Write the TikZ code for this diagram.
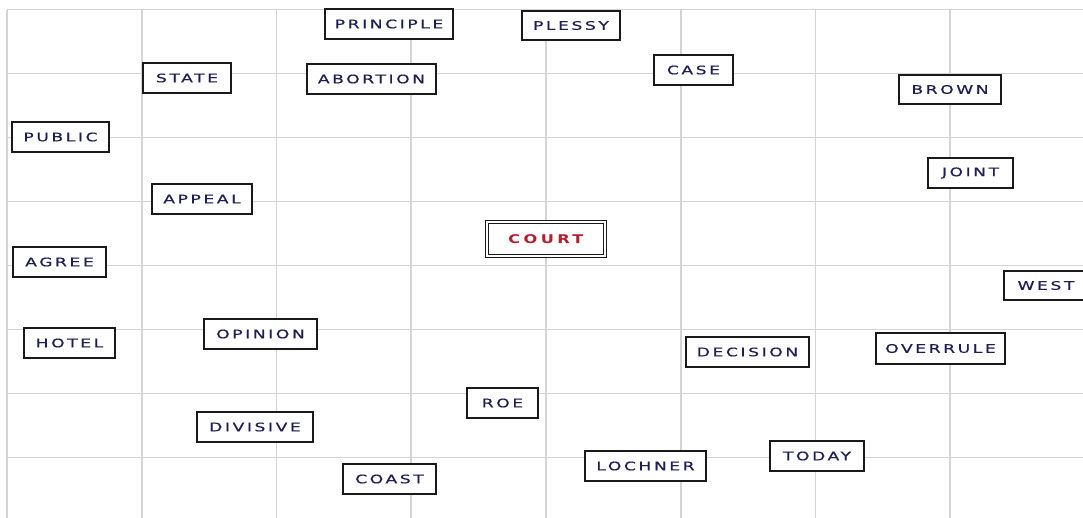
\documentclass[tikz,border=0pt]{standalone}
\usepackage{fontspec}
\newfontfamily\wordfont[FakeStretch=1.45,LetterSpace=22,FakeBold=0.6]{DejaVu Sans}
\newfontfamily\courtfont[FakeStretch=1.35,LetterSpace=28]{DejaVu Sans Bold}
\definecolor{gridgray}{HTML}{D4D4D4}
\definecolor{wordnavy}{HTML}{1E1E55}
\definecolor{courtred}{HTML}{B81C2C}
\definecolor{boxedge}{HTML}{1A1A1A}
\tikzset{
  wordbox/.style={draw=boxedge, line width=1.6, fill=white, text=wordnavy,
    font={\wordfont\fontsize{11.8}{13}\selectfont}, inner sep=0, anchor=center},
  courtbox/.style={draw=boxedge, double=white, double distance=2, line width=1,
    fill=white, text=courtred, font={\courtfont\fontsize{12}{14}\selectfont},
    inner sep=0, anchor=center},
  gridline/.style={draw=gridgray, line width=1.7}
}
\begin{document}
\begin{tikzpicture}[x=1pt,y=-1pt]
\useasboundingbox (0,0) rectangle (1083,517);
\fill[white] (0,0) rectangle (1083,517);
\begin{scope}
\clip (0,0) rectangle (1083,517);
% grid
\foreach \k in {0,...,8} {
  \draw[gridline] ({7+134.75*\k},9.5) -- ({7+134.75*\k},525);
  \draw[gridline] (7,{9.5+64*\k}) -- (1090,{9.5+64*\k});
}
% word boxes
\node[wordbox, minimum width=128, minimum height=30] (principle) at (389,24) {PRINCIPLE};
\node[wordbox, minimum width=98, minimum height=29] (plessy) at (571,25.5) {PLESSY};
\node[wordbox, minimum width=88, minimum height=30] (state) at (187,78) {STATE};
\node[wordbox, minimum width=129, minimum height=30] (abortion) at (371.5,79) {ABORTION};
\node[wordbox, minimum width=79, minimum height=30] (case) at (693.5,70) {CASE};
\node[wordbox, minimum width=102, minimum height=29] (brown) at (950,89.5) {BROWN};
\node[wordbox, minimum width=97, minimum height=30] (public) at (60.5,137) {PUBLIC};
\node[wordbox, minimum width=85, minimum height=30] (joint) at (970.5,173) {JOINT};
\node[wordbox, minimum width=100, minimum height=30] (appeal) at (202,199) {APPEAL};
\node[courtbox, minimum width=118, minimum height=34] (court) at (546,239) {COURT};
\node[wordbox, minimum width=93, minimum height=30] (agree) at (59.5,262) {AGREE};
\node[wordbox, minimum width=84, minimum height=29] (west) at (1046,285.5) {WEST};
\node[wordbox, minimum width=91, minimum height=30] (hotel) at (69.5,343) {HOTEL};
\node[wordbox, minimum width=113, minimum height=30] (opinion) at (260.5,334) {OPINION};
\node[wordbox, minimum width=123, minimum height=30] (decision) at (747.5,352) {DECISION};
\node[wordbox, minimum width=129, minimum height=31] (overrule) at (940.5,348.5) {OVERRULE};
\node[wordbox, minimum width=71, minimum height=30] (roe) at (502.5,403) {ROE};
\node[wordbox, minimum width=116, minimum height=30] (divisive) at (255,427) {DIVISIVE};
\node[wordbox, minimum width=121, minimum height=30] (lochner) at (645.5,466) {LOCHNER};
\node[wordbox, minimum width=94, minimum height=30] (today) at (817,456) {TODAY};
\node[wordbox, minimum width=93, minimum height=30] (coast) at (389.5,479) {COAST};
\end{scope}
\end{tikzpicture}
\end{document}
